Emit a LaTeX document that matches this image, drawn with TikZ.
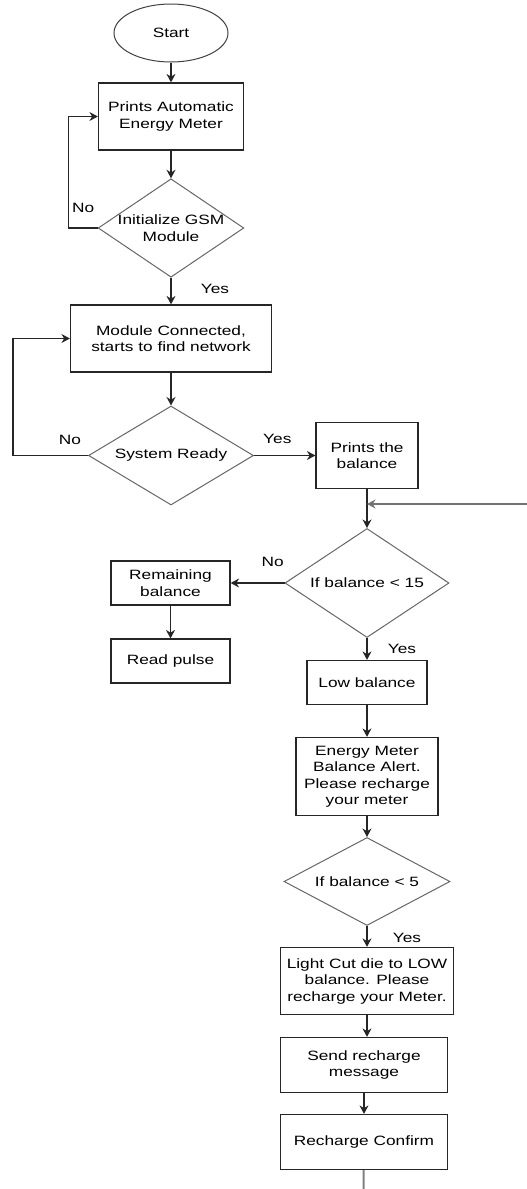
\documentclass[tikz,border=0pt]{standalone}
\usepackage{fontspec}
\usepackage{tikz}
\usetikzlibrary{arrows.meta,shapes.geometric}
\newfontfamily\flowfont[FakeStretch=1.28]{Liberation Sans}

\begin{document}
\begin{tikzpicture}[->,>={Stealth[length=8.5pt,width=9pt]},line width=1.4pt,x=1pt,y=1pt,
                    font=\flowfont\fontsize{13.5pt}{16.5pt}\selectfont]
  \tikzstyle{process}=[rectangle,draw=black!85,line width=1.2pt,align=center,inner sep=2pt]
  \tikzstyle{decision}=[diamond,draw=black!60,line width=1pt,align=center,inner sep=0pt]
  \tikzstyle{lbl}=[inner sep=0pt,anchor=base]
  \useasboundingbox (0,0) rectangle (527,-1189);

  \node[ellipse,draw=black!75,line width=1pt,minimum width=114pt,minimum height=58pt] (start) at (171,-33) {Start};
  \node[process,minimum width=145pt,minimum height=67pt] (meter) [node distance=83.5pt,below of=start] {Prints Automatic\\Energy Meter};
  \node[decision,minimum width=145pt,minimum height=98pt,aspect=1.48] (gsm) [node distance=111.5pt,below of=meter] {Initialize GSM\\Module};
  \node[process,minimum width=201pt,minimum height=67pt] (network) [node distance=110.5pt,below of=gsm] {Module Connected,\\starts to find network};
  \node[decision,minimum width=165pt,minimum height=99pt,aspect=1.67] (ready) [node distance=117pt,below of=network] {System Ready};
  \node[process,minimum width=102pt,minimum height=66pt] (balance) [node distance=196pt,right of=ready] {Prints the\\balance};
  \node[decision,minimum width=164pt,minimum height=109pt,aspect=1.5] (check15) [node distance=127.5pt,below of=balance] {If balance < 15};
  \node[process,minimum width=119pt,minimum height=44pt] (remain) [node distance=196.5pt,left of=check15] {Remaining\\balance};
  \node[process,minimum width=119pt,minimum height=44pt] (pulse) [node distance=78pt,below of=remain] {Read pulse};
  \node[process,minimum width=120pt,minimum height=44pt] (low) [node distance=99.5pt,below of=check15] {Low balance};
  \node[process,minimum width=142pt,minimum height=78pt] (alert) [node distance=94pt,below of=low] {Energy Meter\\Balance Alert.\\Please recharge\\your meter};
  \node[decision,minimum width=166pt,minimum height=88pt,aspect=1.89] (check5) [node distance=105pt,below of=alert] {If balance < 5};
  \node[process,minimum width=173pt,minimum height=67pt] (cut) [node distance=99.5pt,below of=check5] {Light Cut die to LOW\\balance. Please\\recharge your Meter.};
  \node[process,minimum width=167pt,minimum height=55pt] (send) [node distance=84pt,below of=cut,xshift=-3pt] {Send recharge\\message};
  \node[process,minimum width=167pt,minimum height=55pt] (confirm) [node distance=77pt,below of=send] {Recharge Confirm};

  \coordinate (back) at (527,-504);
  \coordinate (tail) at (363.5,-1189);

  \path[draw=black!85]
        (start) edge (meter)
        (meter) edge (gsm)
        (gsm) edge node[lbl,pos=0.6,xshift=44pt] {Yes} (network)
        (network) edge (ready)
        (ready) edge node[lbl,pos=0.38,yshift=12pt] {Yes} (balance)
        (balance) edge (check15)
        (check15) edge node[lbl,pos=0.22,yshift=17pt] {No} (remain)
        (remain) edge (pulse)
        (check15) edge node[lbl,pos=0.7,xshift=35pt] {Yes} (low)
        (low) edge (alert)
        (alert) edge (check5)
        (check5) edge node[lbl,pos=0.77,xshift=40pt] {Yes} (cut)
        (send) edge (confirm);

  \draw[draw=black!85] (gsm.west) -- node[lbl,midway,yshift=16pt] {No} ++(-29pt,0) |- (meter.west);
  \draw[draw=black!85] (ready.west) -- node[lbl,pos=0.24,yshift=11pt] {No} ++(-75pt,0) |- (network.west);
  \draw[draw=black!85] (cut.south -| send.north) ++(3pt,0) -- (send.north -| cut.south);
  \draw[draw=black!55] (back) -- (back -| balance.south);
  \draw[-,draw=black!50,line width=2pt] (confirm) -- (tail);
\end{tikzpicture}
\end{document}
